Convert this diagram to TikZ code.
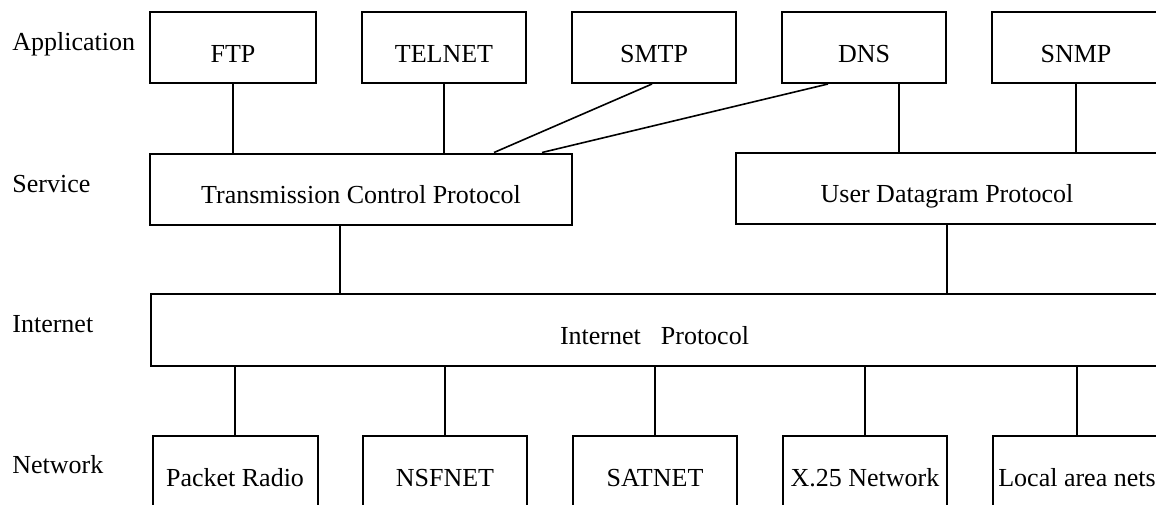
\documentclass[tikz,border=0pt]{standalone}
\usepackage{fontspec}
\setmainfont{Liberation Serif}
\begin{document}
\begin{tikzpicture}[x=0.5pt,y=-0.5pt,
  every node/.style={font=\fontsize{13pt}{15pt}\selectfont},
  layerbox/.style={draw, line width=1pt, inner sep=0pt, minimum height=35.5pt,
                   text height=16pt, text depth=1.5pt},
  link/.style={line width=0.8pt},
  layername/.style={anchor=base west, inner sep=0pt}]

  % page area (boxes on the right run past the edge)
  \useasboundingbox (0,0) rectangle (1156,504);
  \fill[white] (0,0) rectangle (1156,504);

  % layer names
  \node[layername] (lapp) at (12,50)  {Application};
  \node[layername] (lsrv) at (12,192) {Service};
  \node[layername] (lint) at (12,332) {Internet};
  \node[layername] (lnet) at (12,473) {Network};

  % application layer
  \node[layerbox, minimum width=83pt] (ftp)    at (233,47.5)  {FTP};
  \node[layerbox, minimum width=82pt] (telnet) at (444,47.5)  {TELNET};
  \node[layerbox, minimum width=82pt] (smtp)   at (654,47.5)  {SMTP};
  \node[layerbox, minimum width=82pt] (dns)    at (864,47.5)  {DNS};
  \node[layerbox, minimum width=84pt] (snmp)   at (1076,47.5) {SNMP};

  % service layer
  \node[layerbox, minimum width=211pt] (tcp) at (361,189) {Transmission Control Protocol};
  \node[layerbox, minimum width=211pt] (udp) at (947,188) {User Datagram Protocol};

  % internet layer
  \node[layerbox, minimum width=503.5pt, minimum height=36pt] (ip) at (654.5,330) {Internet\hspace{10pt}Protocol};

  % network layer
  \node[layerbox, minimum width=82.5pt] (pr)    at (235,471.5)  {Packet Radio};
  \node[layerbox, minimum width=82pt]   (nsf)   at (445,471.5)  {NSFNET};
  \node[layerbox, minimum width=82pt]   (sat)   at (655,471.5)  {SATNET};
  \node[layerbox, minimum width=82pt]   (x25)   at (865,471.5)  {X.25 Network};
  \node[layerbox, minimum width=84pt]   (lan)   at (1077,471.5) {Local area nets};

  % attachment columns for off-centre links
  \coordinate (smtpT) at (494,0);
  \coordinate (dnsB)  at (828,0);
  \coordinate (dnsT)  at (542,0);
  \coordinate (dnsU)  at (899,0);
  \coordinate (tcpI)  at (340,0);

  % application -> service
  \draw[link] (ftp.south) -- (ftp.south |- tcp.north);
  \draw[link] (telnet.south) -- (telnet.south |- tcp.north);
  \draw[link] ([xshift=-1pt]smtp.south) -- (smtpT |- tcp.north);
  \draw[link] (dnsB |- dns.south) -- (dnsT |- tcp.north);
  \draw[link] (dnsU |- dns.south) -- (dnsU |- udp.north);
  \draw[link] (snmp.south) -- (snmp.south |- udp.north);

  % service -> internet
  \draw[link] (tcpI |- tcp.south) -- (tcpI |- ip.north);
  \draw[link] (udp.south) -- (udp.south |- ip.north);

  % internet -> network
  \draw[link] (pr.north |- ip.south)  -- (pr.north);
  \draw[link] (nsf.north |- ip.south) -- (nsf.north);
  \draw[link] (sat.north |- ip.south) -- (sat.north);
  \draw[link] (x25.north |- ip.south) -- (x25.north);
  \draw[link] (lan.north |- ip.south) -- (lan.north);
\end{tikzpicture}
\end{document}
